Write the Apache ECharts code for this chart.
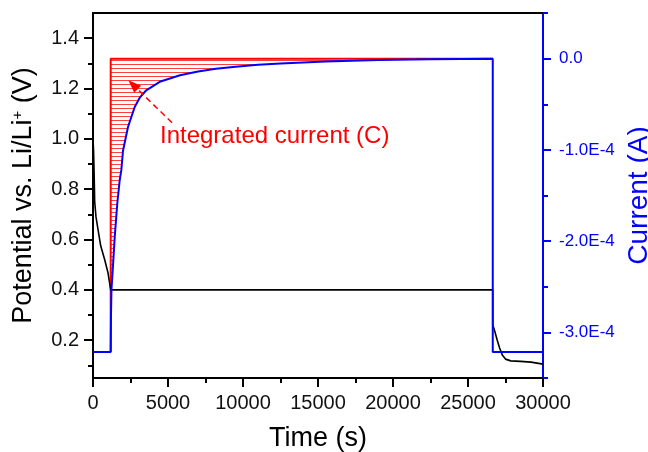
<!DOCTYPE html>
<html><head><meta charset="utf-8">
<script src="https://cdn.jsdelivr.net/npm/echarts@6/dist/echarts.min.js"></script>
<style>html,body{margin:0;padding:0;background:#fff}#c{width:648px;height:452px}</style>
</head><body><div id="c"></div>
<script>
// ---- data ----
const potentialT = [0, 40, 80, 113, 200, 333, 513, 780, 1000, 1180, 26650, 26650, 26750, 26950, 27100, 27300, 27500, 27850, 28500, 29200, 29700, 30000];
const potentialV = [1.0, 0.95, 0.85, 0.75, 0.69, 0.64, 0.575, 0.52, 0.468, 0.40, 0.40, 0.26, 0.243, 0.20, 0.17, 0.14, 0.125, 0.118, 0.116, 0.113, 0.108, 0.105];

const currentT = [0, 1180, 1200, 1230, 1330, 1450, 1620, 1780, 1890, 2000, 2333, 2780, 3133, 3550, 4500, 5800, 7000, 8200, 9500, 11000, 12500, 15500, 19000, 22500, 26650, 26650, 30000];
const currentA = [-3.214e-4, -3.214e-4, -2.8e-4, -2.53e-4, -2.28e-4, -1.95e-4, -1.585e-4, -1.333e-4, -1.22e-4, -1.01e-4, -0.749e-4, -0.53e-4, -0.424e-4, -0.347e-4, -0.25e-4, -0.183e-4, -0.14e-4, -0.11e-4, -0.088e-4, -0.068e-4, -0.053e-4, -0.032e-4, -0.015e-4, -0.007e-4, -0.002e-4, -3.214e-4, -3.214e-4];

const chargeStartT = 1180;
const chargeEndT = 26650;
const boundaryT = [1180, 1180, 26650];
const boundaryA = [-3.214e-4, 0, 0];

const xTicks = [0, 5000, 10000, 15000, 20000, 25000, 30000];
const leftTicks = [0.2, 0.4, 0.6, 0.8, 1.0, 1.2, 1.4];
const leftMinorTicks = [0.1, 0.3, 0.5, 0.7, 0.9, 1.1, 1.3];
const rightTicks = [0, -1e-4, -2e-4, -3e-4];
const rightMinorTicks = [0.5e-4, -0.5e-4, -1.5e-4, -2.5e-4, -3.5e-4];

const annotationText = 'Integrated current (C)';
const annotationAt = [4133, 1.01];
const arrowFrom = [5267, 1.064];
const arrowTo = [2667, 1.215];

// ---- build ----
const FONT = 'Liberation Sans, Arial, sans-serif';
const potential = potentialT.map((t, i) => [t, potentialV[i]]);
const current = currentT.map((t, i) => [t, currentA[i]]);
const hatch = [];
currentT.forEach((t, i) => {
  if (t >= chargeStartT && t <= chargeEndT && !(t === chargeEndT && currentA[i] < -3e-4) && !(t === chargeStartT && hatch.length)) hatch.push([t, currentA[i]]);
});
const boundary = boundaryT.map((t, i) => [t, boundaryA[i]]);

const pc = document.createElement('canvas');
pc.width = 4; pc.height = 4;
const pctx = pc.getContext('2d');
pctx.fillStyle = 'rgba(255,30,30,0.85)';
pctx.fillRect(0, 0, 4, 1);

const chart = echarts.init(document.getElementById('c'), null, {renderer: 'canvas'});
chart.setOption({
  animation: false,
  backgroundColor: '#fff',
  grid: {left: 93, right: 105, top: 13, bottom: 74, containLabel: false, outerBoundsMode: 'none'},
  xAxis: [{
    type: 'value', min: 0, max: 30000, interval: 5000, position: 'bottom',
    axisLine: {show: true, onZero: false, lineStyle: {color: '#000', width: 2}},
    axisTick: {show: true, inside: false, length: 9, lineStyle: {color: '#000', width: 2}},
    minorTick: {show: true, splitNumber: 2, length: 5, lineStyle: {color: '#000', width: 2}},
    splitLine: {show: false},
    axisLabel: {fontSize: 20, color: '#111', fontFamily: FONT, margin: 15, formatter: v => String(v), customValues: xTicks},
    name: 'Time (s)', nameLocation: 'middle', nameGap: 47,
    nameTextStyle: {fontSize: 27, color: '#000', fontFamily: FONT}
  }, {
    type: 'value', min: 0, max: 30000, position: 'top',
    axisLine: {show: true, onZero: false, lineStyle: {color: '#000', width: 2}},
    axisTick: {show: false}, axisLabel: {show: false}, splitLine: {show: false}
  }],
  yAxis: [{
    type: 'value', min: 0.05, max: 1.5, position: 'left',
    axisLine: {show: true, onZero: false, lineStyle: {color: '#000', width: 2}},
    axisTick: {show: true, length: 9, customValues: leftTicks, lineStyle: {color: '#000', width: 2}},
    axisLabel: {customValues: leftTicks, formatter: v => v.toFixed(1), fontSize: 20, color: '#111', fontFamily: FONT, margin: 14},
    splitLine: {show: false},
    name: 'Potential vs. Li/Li{sup|+} (V)', nameLocation: 'middle', nameGap: 56,
    nameTextStyle: {fontSize: 27, color: '#000', fontFamily: FONT,
      rich: {sup: {fontSize: 15, fontFamily: FONT, color: '#000', verticalAlign: 'top', lineHeight: 15, padding: [0, 0, 4, 0]}}}
  }, {
    type: 'value', min: -3.5e-4, max: 0.5e-4, position: 'right',
    axisLine: {show: true, onZero: false, lineStyle: {color: '#0000ff', width: 2}},
    axisTick: {show: true, length: 8, customValues: rightTicks, lineStyle: {color: '#0000ff', width: 2}},
    axisLabel: {customValues: rightTicks, formatter: v => Math.abs(v) < 1e-12 ? '0.0' : (v * 1e4).toFixed(1) + 'E-4',
      fontSize: 17, color: '#0000ff', fontFamily: FONT, margin: 16},
    splitLine: {show: false},
    name: 'Current (A)', nameLocation: 'middle', nameGap: 73,
    nameTextStyle: {fontSize: 28, color: '#0000ff', fontFamily: FONT}
  }, {
    type: 'value', min: 0.05, max: 1.5, position: 'left',
    axisLine: {show: true, onZero: false, lineStyle: {color: '#000', width: 2}},
    axisLabel: {show: true, customValues: leftMinorTicks, formatter: () => ''}, splitLine: {show: false},
    axisTick: {show: true, length: 5, customValues: leftMinorTicks, lineStyle: {color: '#000', width: 2}}
  }, {
    type: 'value', min: -3.5e-4, max: 0.5e-4, position: 'right',
    axisLine: {show: true, onZero: false, lineStyle: {color: '#0000ff', width: 2}},
    axisLabel: {show: true, customValues: rightMinorTicks, formatter: () => ''}, splitLine: {show: false},
    axisTick: {show: true, length: 5, customValues: rightMinorTicks, lineStyle: {color: '#0000ff', width: 2}}
  }],
  series: [{
    type: 'line', name: 'hatch', yAxisIndex: 1, data: hatch, showSymbol: false, symbol: 'none',
    lineStyle: {width: 0, opacity: 0},
    areaStyle: {origin: 0, opacity: 1, color: {image: pc, repeat: 'repeat'}},
    z: 1, silent: true
  }, {
    type: 'line', name: 'boundary', yAxisIndex: 1, data: boundary, showSymbol: false, symbol: 'none',
    lineStyle: {color: '#ff0000', width: 2}, z: 2, silent: true
  }, {
    type: 'line', name: 'potential', yAxisIndex: 0, data: potential, showSymbol: false, symbol: 'none',
    lineStyle: {color: '#000', width: 1.6}, z: 3, silent: true,
    markLine: {
      silent: true, symbol: ['none', 'triangle'], symbolSize: [10, 13], animation: false,
      lineStyle: {color: '#ff0000', type: [6, 4], width: 1.5},
      label: {show: false},
      data: [[{coord: arrowFrom}, {coord: arrowTo}]]
    },
    markPoint: {
      silent: true, animation: false,
      data: [{coord: annotationAt, symbol: 'circle', symbolSize: 0,
        label: {show: true, position: 'right', distance: 5, formatter: annotationText, color: '#ff0000', fontSize: 24, fontFamily: FONT}}]
    }
  }, {
    type: 'line', name: 'current', yAxisIndex: 1, data: current, showSymbol: false, symbol: 'none',
    lineStyle: {color: '#0000ff', width: 2}, z: 4, silent: true
  }]
});
</script>
</body></html>
